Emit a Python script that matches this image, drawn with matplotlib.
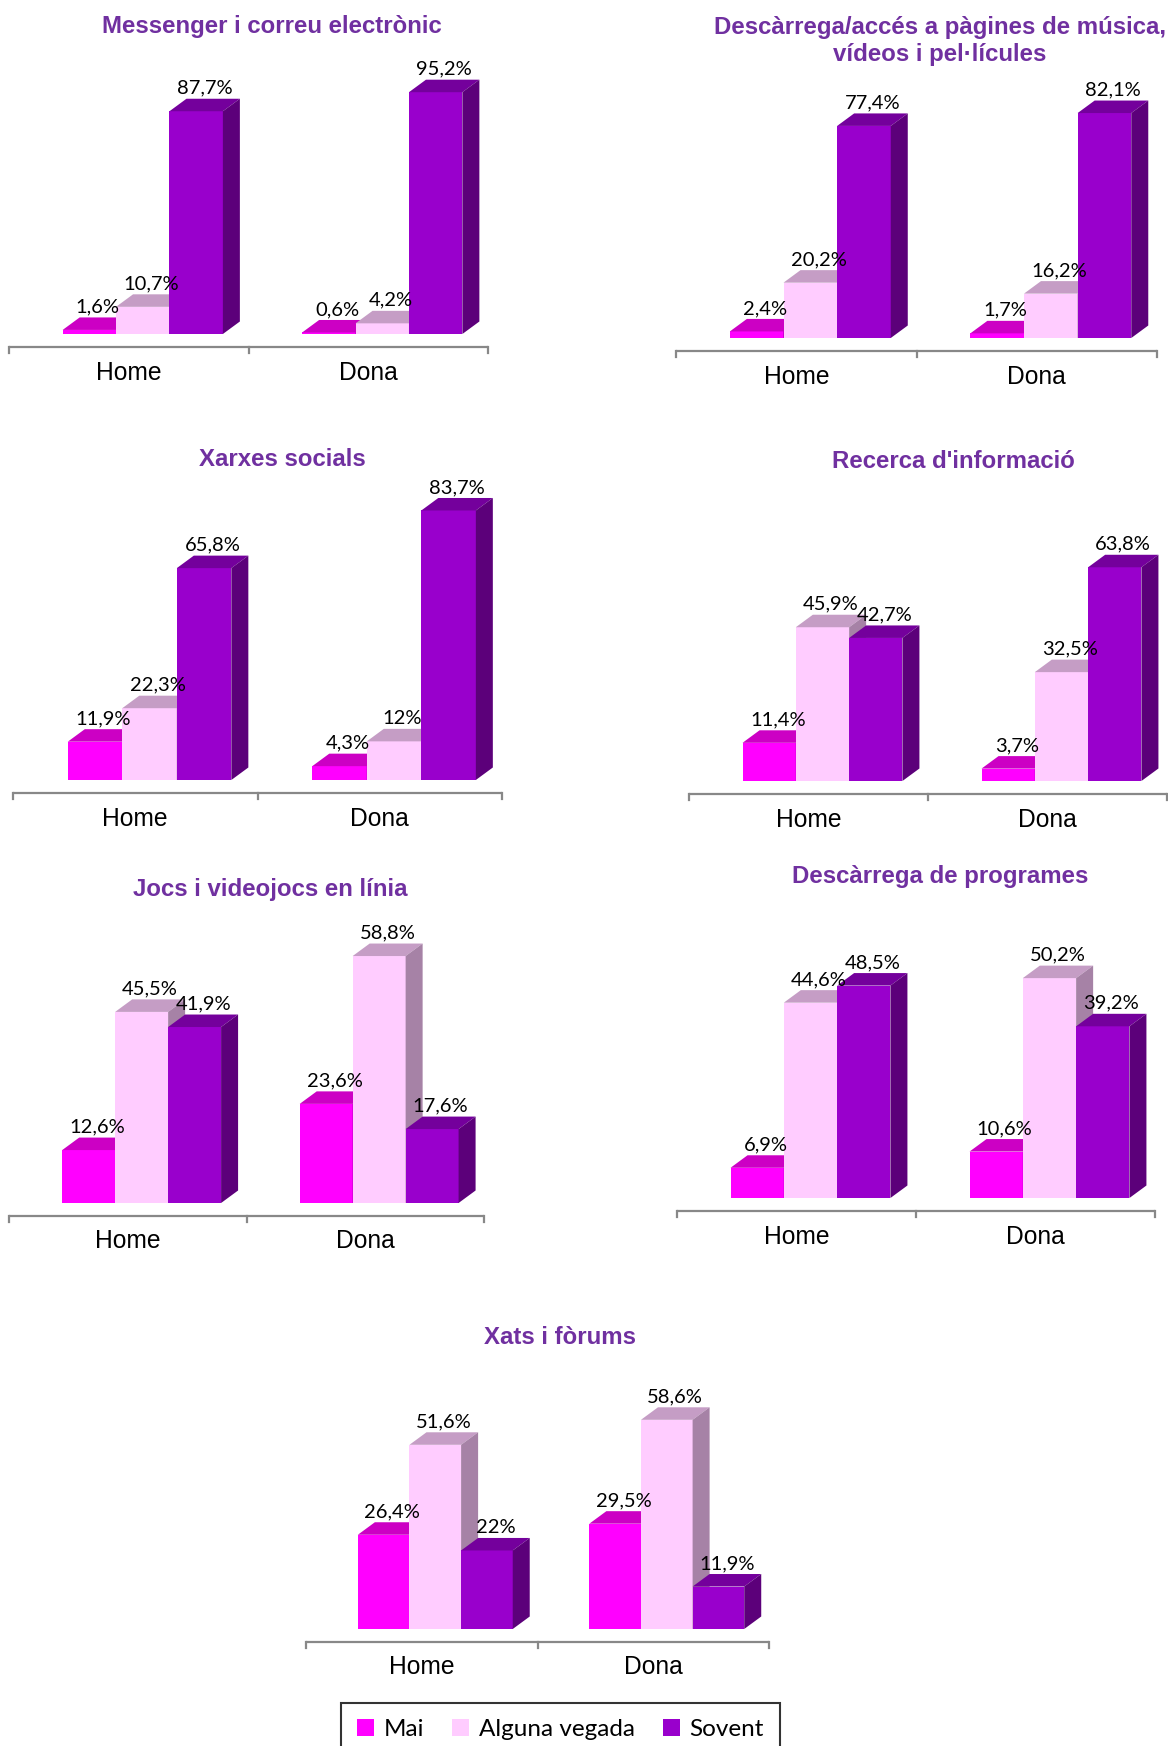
import numpy as np
import matplotlib
matplotlib.use("Agg")
import matplotlib.pyplot as plt
from matplotlib.patches import Polygon, Rectangle

# dades
categories = ["Home", "Dona"]
series = ["Mai", "Alguna vegada", "Sovent"]
titols = [
    "Messenger i correu electrònic",
    "Descàrrega/accés a pàgines de música,\nvídeos i pel·lícules",
    "Xarxes socials",
    "Recerca d'informació",
    "Jocs i videojocs en línia",
    "Descàrrega de programes",
    "Xats i fòrums",
]
mai = [[1.6, 0.6], [2.4, 1.7], [11.9, 4.3], [11.4, 3.7], [12.6, 23.6], [6.9, 10.6], [26.4, 29.5]]
alguna = [[10.7, 4.2], [20.2, 16.2], [22.3, 12], [45.9, 32.5], [45.5, 58.8], [44.6, 50.2], [51.6, 58.6]]
sovent = [[87.7, 95.2], [77.4, 82.1], [65.8, 83.7], [42.7, 63.8], [41.9, 17.6], [48.5, 39.2], [22, 11.9]]

# mise en page (pixels de la figure)
W, H = 1168, 1746
tick_gauche = [9, 676, 13, 689, 9, 677, 306]
tick_droite = [488, 1157, 502, 1167, 484, 1155, 769]
ligne_base = [334, 338, 780, 781, 1203, 1198, 1629]
px_par_pct = [2.54, 2.74, 3.22, 3.35, 4.2, 4.38, 3.57]
titre_x = [272, 940, 282, 953, 270, 940, 560]
titre_y = [27, 41, 460, 461, 890, 877, 1338]

couleur_face = ["#FF00FF", "#FFCCFF", "#9900CC"]
couleur_dessus = ["#CC00C4", "#C59DC5", "#74009C"]
couleur_cote = ["#A000A0", "#A682A6", "#5C007A"]
VIOLET = "#7030A0"
GRIS = "#888888"

fig = plt.figure(figsize=(W / 100, H / 100), dpi=100)


def etiquette(v):
    return f"{v:g}".replace(".", ",") + "%"


def dessiner(i):
    l, r, b0, k = tick_gauche[i], tick_droite[i], ligne_base[i], px_par_pct[i]
    haut = b0 - 105 * k
    bas = b0 + 60
    ax = fig.add_axes([l / W, 1 - bas / H, (r - l) / W, (bas - haut) / H])
    ax.set_xlim(0, 2)
    ax.set_ylim(-60 / k, 105)
    ax.axis("off")

    ddx = 17 * 2 / (r - l)  # profondeur 3D
    ddy = 12.5 / k
    larg = 0.223
    x = np.arange(len(categories)) + 0.224
    valeurs = [mai[i], alguna[i], sovent[i]]

    for c in range(len(categories)):
        for s in range(len(series)):
            v = valeurs[s][c]
            x0 = x[c] + s * larg
            ax.bar(x0, v, width=larg, align="edge", color=couleur_face[s], linewidth=0, clip_on=False)
            ax.add_patch(Polygon([[x0, v], [x0 + larg, v], [x0 + larg + ddx, v + ddy], [x0 + ddx, v + ddy]],
                                 closed=True, fc=couleur_dessus[s], lw=0, clip_on=False))
            ax.add_patch(Polygon([[x0 + larg, 0], [x0 + larg + ddx, ddy], [x0 + larg + ddx, v + ddy], [x0 + larg, v]],
                                 closed=True, fc=couleur_cote[s], lw=0, clip_on=False))
            ax.text(x0 + larg / 2 + ddx / 2, v + ddy + 5 / k, etiquette(v), ha="center", va="baseline",
                    fontsize=14.5, family="Lato", color="black")

    # axe horizontal
    ax.plot([0, 2], [-ddy, -ddy], color=GRIS, lw=1.6, clip_on=False, solid_capstyle="butt")
    for t in range(3):
        ax.plot([t, t], [-ddy, -ddy - 6 / k], color=GRIS, lw=1.6, clip_on=False)
    for c, cat in enumerate(categories):
        ax.text(c + 0.5, -ddy - 26 / k, cat, ha="center", va="center", fontsize=17.7,
                family="Liberation Sans", color="black")

    fig.text(titre_x[i] / W, 1 - titre_y[i] / H, titols[i], ha="center", va="center", fontsize=17.3,
             weight="bold", family="Liberation Sans", color=VIOLET, linespacing=1.2)


for i in range(len(titols)):
    dessiner(i)

poignees = [Rectangle((0, 0), 1, 1, fc=couleur_face[s], lw=0) for s in range(len(series))]
leg = fig.legend(poignees, series, loc="upper center", bbox_to_anchor=(560.5 / W, 1 - 1703 / H),
                 ncol=3, frameon=True, fancybox=False, edgecolor="black", handlelength=0.7,
                 handleheight=0.7, handletextpad=0.4, columnspacing=1.15, borderpad=0.65,
                 borderaxespad=0, prop={"family": "Lato", "size": 17.5})
leg.get_frame().set_linewidth(1.5)

fig.savefig("out.png", dpi=100, facecolor="white")
